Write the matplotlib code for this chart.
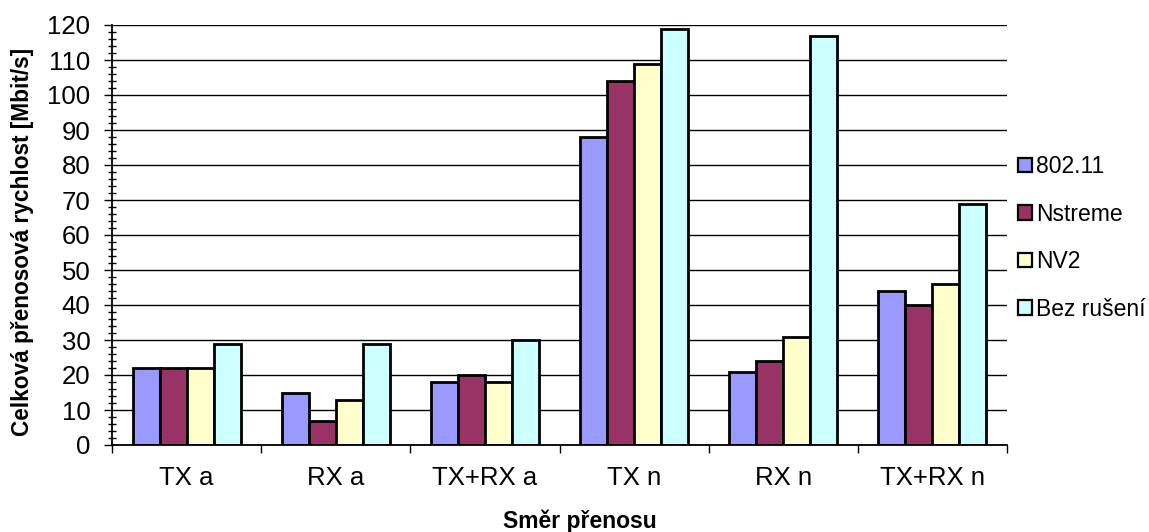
import numpy as np
import matplotlib
matplotlib.use('Agg')
import matplotlib.pyplot as plt
from matplotlib.patches import Patch
from matplotlib.ticker import MultipleLocator, FixedLocator, NullFormatter

plt.rcParams['font.family'] = ['Liberation Sans', 'DejaVu Sans']

# Směry přenosu a naměřené rychlosti [Mbit/s]
smery = ['TX a', 'RX a', 'TX+RX a', 'TX n', 'RX n', 'TX+RX n']
r_80211 = [22, 15, 18, 88, 21, 44]
r_nstreme = [22, 7, 20, 104, 24, 40]
r_nv2 = [22, 13, 18, 109, 31, 46]
r_bez = [29, 29, 30, 119, 117, 69]

serie = ['802.11', 'Nstreme', 'NV2', 'Bez rušení']
barvy = ['#9999FF', '#993366', '#FFFFCC', '#CCFFFF']

fig = plt.figure(figsize=(11.49, 5.32), dpi=100)
ax = fig.add_axes([112 / 1149, 87 / 532, 895 / 1149, 420 / 532])

x = np.arange(len(smery))
sirka = 0.181
data = [r_80211, r_nstreme, r_nv2, r_bez]
for i, (hodnoty, barva) in enumerate(zip(data, barvy)):
    ax.bar(x + (i - 1.5) * sirka, hodnoty, width=sirka, color=barva,
           edgecolor='black', linewidth=2.0, zorder=3, label=serie[i])

ax.set_xlim(-0.5, len(smery) - 0.5)
ax.set_ylim(0, 120)

# osa y: hlavní dílky po 10, vedlejší po 2
ax.yaxis.set_major_locator(MultipleLocator(10))
ax.yaxis.set_minor_locator(MultipleLocator(2))
ax.tick_params(axis='y', which='major', direction='out', length=5.5, width=1,
               labelsize=18.5, pad=10)
ax.tick_params(axis='y', which='minor', direction='inout', length=6, width=1)
ax.grid(axis='y', which='major', color='black', linewidth=1.0, zorder=0)

# osa x: dílky na hranicích skupin, popisky uprostřed
ax.xaxis.set_major_locator(FixedLocator(np.arange(len(smery) + 1) - 0.5))
ax.xaxis.set_major_formatter(NullFormatter())
ax.xaxis.set_minor_locator(FixedLocator(x))
ax.set_xticklabels(smery, minor=True)
ax.tick_params(axis='x', which='major', direction='out', length=5.5, width=1)
ax.tick_params(axis='x', which='minor', length=0, labelsize=18.5, pad=15)

for s in ['top', 'right']:
    ax.spines[s].set_visible(False)
for s in ['left', 'bottom']:
    ax.spines[s].set_linewidth(1.3)
    ax.spines[s].set_zorder(4)

fig.text(0.0195, 0.545, 'Celková přenosová rychlost [Mbit/s]', rotation=90,
         ha='center', va='center', fontsize=16.3, fontweight='bold')
fig.text(0.505, 0.021, 'Směr přenosu', ha='center', va='center',
         fontsize=16.5, fontweight='bold')

handles = [Patch(facecolor=b, edgecolor='black', linewidth=1.6) for b in barvy]
fig.legend(handles, serie, loc='upper left', bbox_to_anchor=(1018 / 1149, 1 - 155 / 532),
           frameon=False, fontsize=16.5, handlelength=0.6, handleheight=0.6,
           handletextpad=0.2, labelspacing=1.07, borderpad=0, borderaxespad=0)

fig.savefig('out.png', dpi=100)
